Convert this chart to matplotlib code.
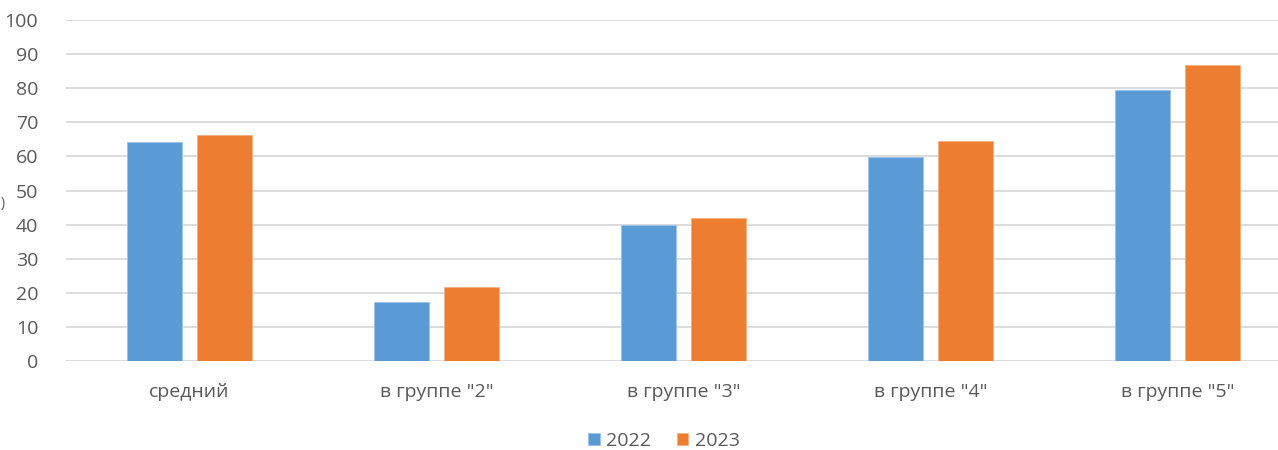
import matplotlib
matplotlib.use("Agg")
import matplotlib.pyplot as plt
import numpy as np

categories = ["средний", 'в группе "2"', 'в группе "3"', 'в группе "4"', 'в группе "5"']
series_names = ["2022", "2023"]
values_2022 = [64.1, 17.2, 39.9, 59.7, 79.6]
values_2023 = [66.4, 21.7, 41.9, 64.5, 86.7]
yticks = [0, 10, 20, 30, 40, 50, 60, 70, 80, 90, 100]

colors = ["#5b9bd5", "#ed7d31"]
text_color = "#595959"

plt.rcParams['font.family'] = ['Open Sans', 'DejaVu Sans']
fig = plt.figure(figsize=(12.78, 4.5), dpi=100)
ax = fig.add_axes([66/1278, 1-361/450, 1-66/1278, (361-20)/450])

x = np.arange(len(categories))
w = 0.223
gap = 0.06
ax.bar(x - (w+gap)/2, values_2022, width=w, color=colors[0], edgecolor="#9cc3e6", linewidth=0.6, label=series_names[0], zorder=3)
ax.bar(x + (w+gap)/2, values_2023, width=w, color=colors[1], edgecolor="#f4b183", linewidth=0.6, label=series_names[1], zorder=3)

ax.set_ylim(0, 100)
ax.set_xlim(-0.5, -0.5 + (1278-66)/247)
ax.set_yticks(yticks)
ax.yaxis.grid(True, color="#d9d9d9", linewidth=1.3, zorder=0)
ax.set_axisbelow(True)
for s in ax.spines.values():
    s.set_visible(False)
ax.tick_params(axis='both', length=0, colors=text_color, labelsize=14)
ax.tick_params(axis='y', pad=20)
ax.tick_params(axis='x', pad=16)
ax.set_xticks(x)
ax.set_xticklabels(categories)

fig.legend(loc="center", bbox_to_anchor=(664/1278, 1-441/450), ncol=2, frameon=False,
           fontsize=14, handlelength=0.6, handleheight=0.6, handletextpad=0.35, columnspacing=1.3,
           labelcolor=text_color)
fig.text(0.0005, 1-203/450, ")", color=text_color, fontsize=10, ha="left", va="center")

fig.savefig("out.png", dpi=100)
